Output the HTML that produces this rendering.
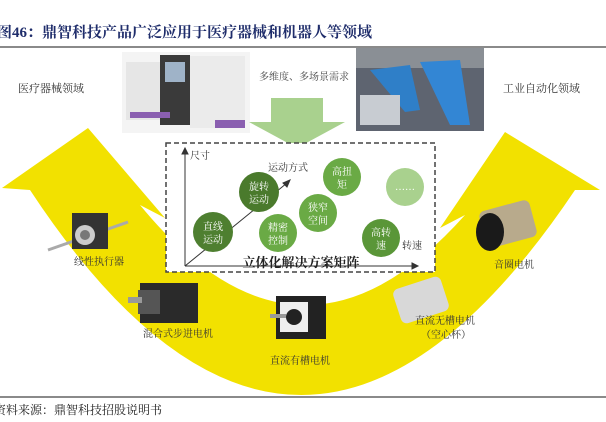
<!DOCTYPE html>
<html><head><meta charset="utf-8"><style>
body{margin:0;width:606px;height:422px;background:#fff;overflow:hidden;font-family:"Liberation Sans","Noto Sans CJK SC",sans-serif}
svg{position:absolute;left:0;top:0}
</style></head><body>
<svg width="606" height="422" viewBox="0 0 606 422" font-family="'Liberation Serif','Noto Serif CJK SC',serif">
<text x="-3" y="37" font-size="15" font-weight="bold" fill="#1f2d6b">图46：鼎智科技产品广泛应用于医疗器械和机器人等领域</text>
<rect x="0" y="46" width="606" height="2" fill="#8a8a8a"/>
<path d="M2,188 L88,128 L165,218 L140,205 Q300,400 465,215 L440,228 L505,132 L600,190 L575,190 Q300,600 30,190 Z" fill="#f2e100"/>
<text x="18" y="92" font-size="11" fill="#333">医疗器械领域</text>
<text x="503" y="92" font-size="11" fill="#333">工业自动化领域</text>
<text x="259" y="80" font-size="10" fill="#444">多维度、多场景需求</text>
<rect x="122" y="52" width="128" height="81" fill="#f4f4f4"/>
<rect x="126" y="62" width="36" height="58" fill="#e6e6e6"/>
<rect x="160" y="55" width="30" height="70" fill="#3a3a3a"/>
<rect x="165" y="62" width="20" height="20" fill="#9fb3c8"/>
<rect x="190" y="56" width="55" height="72" fill="#ebebeb"/>
<rect x="130" y="112" width="40" height="6" fill="#8a5fb0"/>
<rect x="215" y="120" width="30" height="8" fill="#8a5fb0"/>
<rect x="356" y="48" width="128" height="83" fill="#5e6470"/>
<rect x="356" y="48" width="128" height="20" fill="#8a8f95"/>
<path d="M370,70 L410,65 L420,110 L405,112 Z" fill="#2f7fc8"/>
<path d="M420,62 L460,60 L470,125 L450,125 Z" fill="#3386d4"/>
<rect x="360" y="95" width="40" height="30" fill="#c8ccd2"/>
<path d="M271,98 H323 V122 H345 L297,148 L249,122 H271 Z" fill="#a9d18e"/>
<rect x="166" y="143" width="269" height="129" fill="#fff" stroke="#444" stroke-width="1.5" stroke-dasharray="5,3"/>
<g stroke="#333" stroke-width="1" fill="#333">
<line x1="185" y1="266" x2="185" y2="152"/><path d="M182,154 L185,148 L188,154Z"/>
<line x1="185" y1="266" x2="414" y2="266"/><path d="M412,263 L418,266 L412,269Z"/>
<line x1="185" y1="266" x2="287" y2="183"/><path d="M283,183 L290,180 L287,187Z"/>
</g>
<g font-size="10" fill="#333">
<text x="190" y="159">尺寸</text><text x="402" y="249">转速</text><text x="268" y="171">运动方式</text>
</g>
<g>
<circle cx="213" cy="232" r="20" fill="#4e7f30"/>
<circle cx="259" cy="192" r="20" fill="#4a7a2c"/>
<circle cx="278" cy="233" r="19" fill="#6aaa45"/>
<circle cx="318" cy="213" r="19" fill="#6aaa45"/>
<circle cx="342" cy="177" r="19" fill="#6aaa45"/>
<circle cx="405" cy="187" r="19" fill="#a9d18e"/>
<circle cx="381" cy="238" r="19" fill="#5a9638"/>
</g>
<g font-size="10" fill="#fff" text-anchor="middle">
<text x="213" y="230">直线</text><text x="213" y="243">运动</text>
<text x="259" y="190">旋转</text><text x="259" y="203">运动</text>
<text x="278" y="231">精密</text><text x="278" y="244">控制</text>
<text x="318" y="211">狭窄</text><text x="318" y="224">空间</text>
<text x="342" y="175">高扭</text><text x="342" y="188">矩</text>
<text x="405" y="190">……</text>
<text x="381" y="236">高转</text><text x="381" y="249">速</text>
</g>
<text x="301" y="267" font-size="13" font-weight="bold" fill="#222" text-anchor="middle">立体化解决方案矩阵</text>
<line x1="48" y1="250" x2="128" y2="222" stroke="#aaa" stroke-width="3"/>
<rect x="72" y="213" width="36" height="36" fill="#333"/><circle cx="85" cy="235" r="10" fill="#ccc"/><circle cx="85" cy="235" r="5" fill="#777"/>
<rect x="140" y="283" width="58" height="40" fill="#2a2a2a"/><rect x="138" y="290" width="22" height="24" fill="#555"/><rect x="128" y="297" width="14" height="6" fill="#999"/>
<rect x="276" y="296" width="50" height="43" fill="#222"/><rect x="280" y="302" width="28" height="30" fill="#eee"/><circle cx="294" cy="317" r="8" fill="#222"/><rect x="270" y="314" width="16" height="4" fill="#999"/>
<rect x="396" y="282" width="50" height="36" rx="6" fill="#d8d8d8" transform="rotate(-18 421 300)"/>
<rect x="482" y="205" width="52" height="38" rx="6" fill="#b8aa8c" transform="rotate(-15 508 224)"/><ellipse cx="490" cy="232" rx="14" ry="19" fill="#1a1a1a"/>
<g font-size="10" fill="#333" text-anchor="middle">
<text x="99" y="265">线性执行器</text>
<text x="178" y="337">混合式步进电机</text>
<text x="300" y="364">直流有槽电机</text>
<text x="445" y="324">直流无槽电机</text><text x="446" y="338">（空心杯）</text>
<text x="514" y="268">音圈电机</text>
</g>
<rect x="0" y="396" width="606" height="2" fill="#8a8a8a"/>
<text x="-6" y="414" font-size="12" fill="#222">资料来源：鼎智科技招股说明书</text>
</svg>
</body></html>
